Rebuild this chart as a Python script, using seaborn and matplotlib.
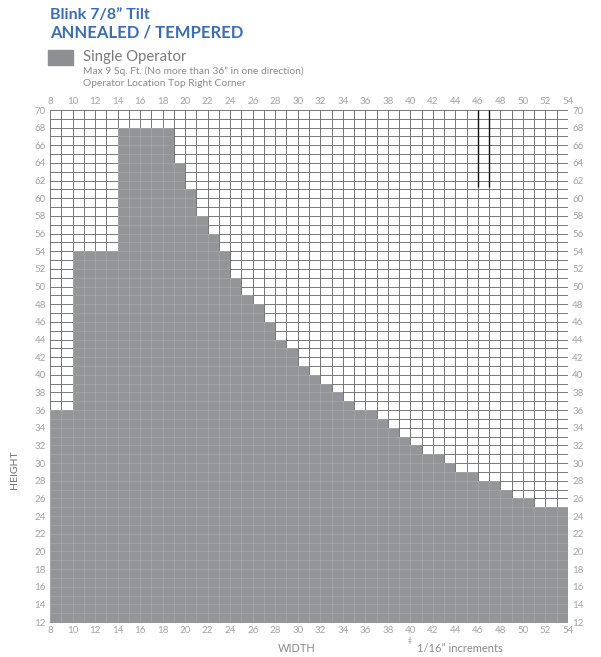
import numpy as np
import pandas as pd
import seaborn as sns
import matplotlib.pyplot as plt

# column left edge (width, in) and max height (in) for that column
widths = list(range(8, 54))
heights = [36, 36, 54, 54, 54, 54, 68, 68, 68, 68, 68,
           64, 61, 58, 56, 54, 51, 49, 48, 46, 44,
           43, 41, 40, 39, 38, 37, 36, 36, 35, 34,
           33, 32, 31, 31, 30, 29, 29, 28, 28, 27,
           26, 26, 25, 25, 25]
x_ticks = list(range(8, 55, 2))
y_ticks = list(range(12, 71, 2))

fill_color = '#939598'
blue = '#3b6db4'
label_gray = '#a3a3a3'

df = pd.DataFrame({'width': widths, 'height': heights})

sns.set_theme(style="white")
plt.rcParams['font.family'] = ['Lato', 'DejaVu Sans']

fig = plt.figure(figsize=(6.01, 6.57), dpi=100)
ax = fig.add_axes([50 / 601, 1 - 622 / 657, 518 / 601, 512 / 657])

sns.histplot(data=df, x='width', weights='height', binwidth=1, binrange=(8, 54),
             element='step', fill=True, color=fill_color, alpha=1,
             linewidth=0, ax=ax, zorder=2)

ax.set_xlim(8, 54)
ax.set_ylim(12, 70)
ax.set_xticks(x_ticks)
ax.set_yticks(y_ticks)
ax.set_xticks(np.arange(8, 55), minor=True)
ax.set_yticks(np.arange(12, 71), minor=True)
ax.grid(which='both', color='#3c3c3c', linewidth=0.55)
ax.set_axisbelow(True)
for s in ax.spines.values():
    s.set_visible(False)

# faint grid showing through the filled area
ax.vlines(np.arange(8, 55), 12, 70, color='white', alpha=0.12, lw=0.8, zorder=3)
ax.hlines(np.arange(12, 71), 8, 54, color='white', alpha=0.12, lw=0.8, zorder=3)

# marker lines near the top
ax.vlines([46, 47], 61.3, 70, color='#111111', lw=1.0, zorder=4)

ax.tick_params(which='both', length=0, labelsize=7, labelcolor=label_gray,
               labeltop=True, labelright=True, pad=3)
ax.set_xlabel('')
ax.set_ylabel('')

fig.text(50 / 601, 1 - 15 / 657, 'Blink 7/8\u201d Tilt', color=blue, fontsize=11.5,
         fontweight='bold', va='center')
fig.text(50 / 601, 1 - 33 / 657, 'ANNEALED / TEMPERED', color=blue, fontsize=12,
         fontweight='bold', va='center')
fig.patches.append(plt.Rectangle((48 / 601, 1 - 65 / 657), 25 / 601, 15 / 657,
                                 transform=fig.transFigure, color='#8e8f93'))
fig.text(83 / 601, 1 - 57 / 657, 'Single Operator', color='#7a7a7a', fontsize=10.7,
         va='center')
fig.text(83 / 601, 1 - 71 / 657,
         'Max 9 Sq. Ft. (No more than 36\u201d in one direction)',
         color='#8a8a8a', fontsize=7.4, va='center')
fig.text(83 / 601, 1 - 83 / 657, 'Operator Location Top Right Corner',
         color='#8a8a8a', fontsize=7.4, va='center')

fig.text(15 / 601, 1 - 470 / 657, 'HEIGHT', color='#707070', fontsize=7.5,
         rotation=90, ha='center', va='center')
fig.text(297 / 601, 1 - 648 / 657, 'WIDTH', color='#8a8a8a', fontsize=8,
         ha='center', va='center')
fig.text(410 / 601, 1 - 641 / 657, '\u2021', color='#8a8a8a', fontsize=5,
         ha='center', va='center')
fig.text(417 / 601, 1 - 648 / 657, '1/16\u201d increments', color='#8a8a8a',
         fontsize=8, ha='left', va='center')

fig.savefig('out.png', dpi=100)
